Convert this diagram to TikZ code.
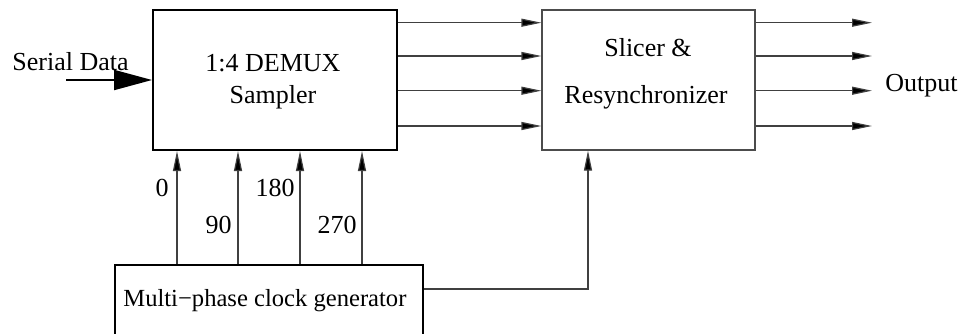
\documentclass[tikz,border=0pt]{standalone}
\usepackage{fontspec}
\setmainfont{Liberation Serif}
\usetikzlibrary{arrows.meta}
\begin{document}
\begin{tikzpicture}[x=0.5pt,y=-0.5pt, font=\fontsize{13}{15}\selectfont,
  thickbox/.style={draw, line width=1pt, inner sep=0},
  thinbox/.style={draw=black!70, line width=0.6pt, inner sep=0},
  conn/.style={draw=black!75, line width=0.6pt, -{Triangle[length=10pt,width=4pt,fill=black]}},
  lbl/.style={inner sep=0}]
\useasboundingbox (0,0) rectangle (967,333);
% boxes
\node[thickbox, minimum width=122pt, minimum height=70pt] (demux) at (275,80) {};
\node[thinbox, minimum width=106.5pt, minimum height=70pt] (slicer) at (648.5,80) {};
\node[thickbox, minimum width=154pt, minimum height=50pt] (clock) at (269,315) {};
% texts
\node[lbl] (t1) at (273,63) {1:4 DEMUX};
\node[lbl] (t2) at (273,97) {Sampler};
\node[lbl] (t3) at (648,48) {Slicer \&};
\node[lbl] (t4) at (646,97) {Resynchronizer};
\node[lbl, anchor=west, font=\fontsize{12.3}{15}\selectfont] (t5) at (123,301) {Multi−phase clock generator};
\node[lbl, anchor=west] (sd) at (12,62) {Serial Data};
\node[lbl, anchor=west] (out) at (885,86) {Output};
% serial data input
\coordinate (sdstart) at (66,80);
\draw[line width=1pt, -{Triangle[length=19pt,width=10pt]}] (sdstart) -- (demux.west |- sdstart);
% demux -> slicer
\foreach \n/\y in {1/22.7,2/56,3/90.7,4/126}{
  \coordinate (m\n) at (0,\y);
  \draw[conn] (demux.east |- m\n) -- (slicer.west |- m\n);
  \coordinate (o\n) at (872,\y);
  \draw[conn] (slicer.east |- o\n) -- (o\n);
}
% clock phases
\foreach \n/\x in {1/177,2/238,3/300,4/362}{
  \coordinate (p\n) at (\x,0);
  \draw[conn] (clock.north -| p\n) -- (demux.south -| p\n);
}
\node[lbl, anchor=east] (l0) at (169,188) {0};
\node[lbl, anchor=east] (l90) at (232,225) {90};
\node[lbl, anchor=east] (l180) at (295,188) {180};
\node[lbl, anchor=east] (l270) at (357,225) {270};
% clock -> slicer
\coordinate (q) at (588,289);
\draw[conn] (clock.east |- q) -| (slicer.south -| q);
\end{tikzpicture}
\end{document}
